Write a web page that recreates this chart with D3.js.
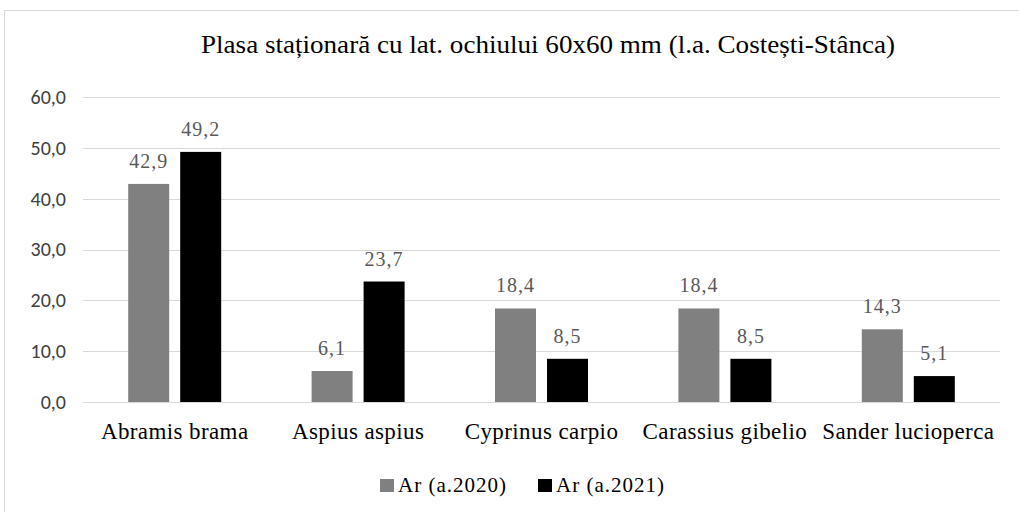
<!DOCTYPE html>
<html>
<head>
<meta charset="utf-8">
<script src="https://cdn.jsdelivr.net/npm/d3@7"></script>
<style>
  body { margin: 0; background: #fff; }
  svg { display: block; }
</style>
</head>
<body>
<svg id="chart" width="1019" height="512"></svg>
<script>
"use strict";
// chart data
const categories = ["Abramis brama", "Aspius aspius", "Cyprinus carpio", "Carassius gibelio", "Sander lucioperca"];
const seriesNames = ["Ar (a.2020)", "Ar (a.2021)"];
const values2020 = [42.9, 6.1, 18.4, 18.4, 14.3];
const values2021 = [49.2, 23.7, 8.5, 8.5, 5.1];
const yTicks = [0, 10, 20, 30, 40, 50, 60];
const colors = ["#808080", "#000000"];

const SERIF = "font-family: 'Liberation Serif', 'Times New Roman', serif";
const SANS = "font-family: Carlito, Calibri, Lato, sans-serif";

const svg = d3.select("#chart");
const margin = {left: 83, right: 19, top: 97, bottom: 110};
const width = 1019 - margin.left - margin.right;
const height = 512 - margin.top - margin.bottom;

// outer border
svg.append("rect")
    .attr("x", 4.5).attr("y", 10.5)
    .attr("width", 1030).attr("height", 520)
    .attr("fill", "#fff").attr("stroke", "#d9d9d9");

svg.append("text")
    .attr("style", SERIF)
    .attr("x", 548).attr("y", 53)
    .attr("text-anchor", "middle")
    .attr("font-size", 26)
    .attr("textLength", 694)
    .attr("lengthAdjust", "spacingAndGlyphs")
    .attr("fill", "#000")
    .text("Plasa staționară cu lat. ochiului 60x60 mm (l.a. Costești-Stânca)");

const g = svg.append("g").attr("transform", "translate(" + margin.left + "," + margin.top + ")");

const x = d3.scaleBand().domain(categories).range([0, width]);
const y = d3.scaleLinear().domain([0, 60]).range([height, 0]);

// gridlines
g.selectAll(".grid")
    .data(yTicks)
    .enter()
    .append("line")
    .attr("x1", 0).attr("x2", width)
    .attr("y1", d => Math.round(y(d)) + 0.5)
    .attr("y2", d => Math.round(y(d)) + 0.5)
    .attr("stroke", "#d9d9d9").attr("stroke-width", 1);

// y axis labels
const yAxis = g.append("g")
    .call(d3.axisLeft(y).tickValues(yTicks).tickSize(0).tickPadding(17)
        .tickFormat(d => d3.format(".1f")(d).replace(".", ",")));
yAxis.select(".domain").remove();
yAxis.selectAll("text")
    .attr("style", SANS)
    .attr("font-size", 20)
    .attr("fill", "#404040");

// x axis labels
const xAxis = g.append("g")
    .attr("transform", "translate(0," + height + ")")
    .call(d3.axisBottom(x).tickSize(0));
xAxis.select(".domain").remove();
xAxis.selectAll("text")
    .attr("style", SERIF)
    .attr("y", 37).attr("dy", 0)
    .attr("font-size", 23)
    .attr("letter-spacing", 0.4)
    .attr("fill", "#000");

// bars
const barW = 41, gap = 11;
const series = [values2020, values2021];
series.forEach(function (vals, si) {
    const off = si === 0 ? -gap / 2 - barW : gap / 2;
    g.selectAll(".bar" + si)
        .data(vals)
        .enter()
        .append("rect")
        .attr("x", (d, i) => x(categories[i]) + x.bandwidth() / 2 + off)
        .attr("y", d => y(d))
        .attr("width", barW)
        .attr("height", d => height - y(d))
        .attr("fill", colors[si]);
    g.selectAll(".lab" + si)
        .data(vals)
        .enter()
        .append("text")
        .attr("style", SERIF)
        .attr("x", (d, i) => x(categories[i]) + x.bandwidth() / 2 + off + barW / 2)
        .attr("y", d => y(d) - 16)
        .attr("text-anchor", "middle")
        .attr("font-size", 20)
        .attr("letter-spacing", 1)
        .attr("fill", "#595959")
        .text(d => d3.format(".1f")(d).replace(".", ","));
});

// legend
const legendX = [380, 538];
seriesNames.forEach(function (name, i) {
    svg.append("rect")
        .attr("x", legendX[i]).attr("y", 479)
        .attr("width", 14).attr("height", 13)
        .attr("fill", colors[i]);
    svg.append("text")
        .attr("style", SERIF)
        .attr("x", legendX[i] + 18).attr("y", 492)
        .attr("font-size", 21)
        .attr("letter-spacing", 1)
        .attr("fill", "#000")
        .text(name);
});
</script>
</body>
</html>
